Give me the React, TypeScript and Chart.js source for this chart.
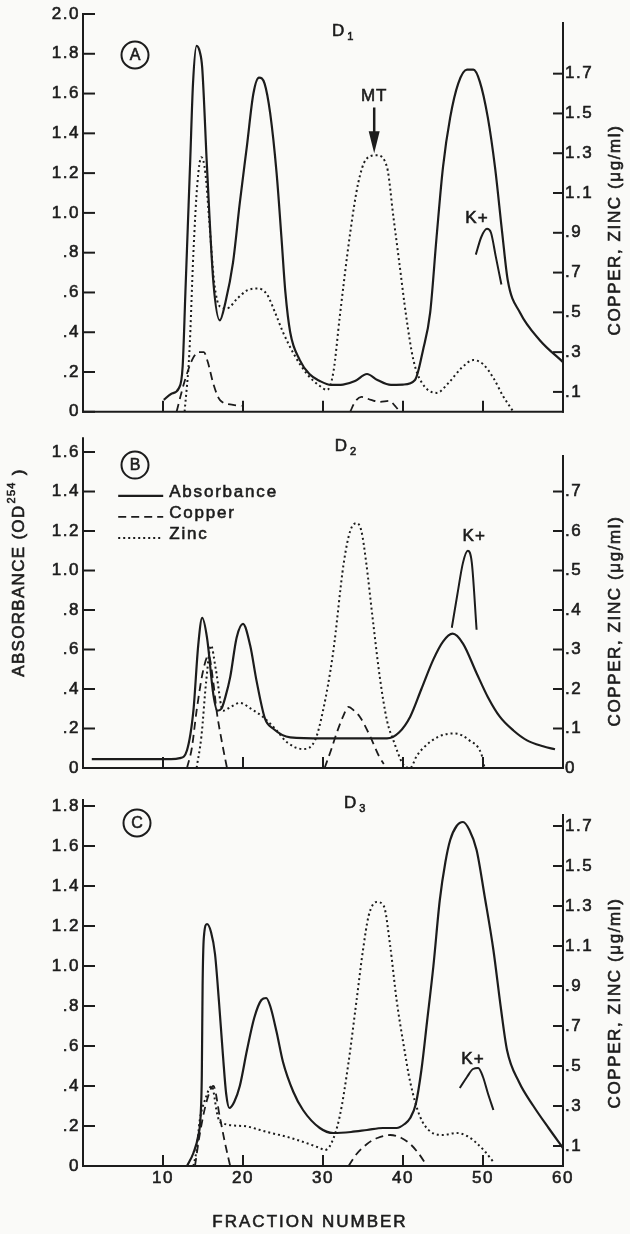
import React, { useEffect, useRef } from 'react';
import { Chart, registerables } from 'chart.js';

Chart.register(...registerables);

type Pt = [number, number];

// ---------------- Panel A (D1) ----------------
// absorbance (OD254, left axis)
const absorbanceA: Pt[] = [
  [10.1, 0.06], [11.0, 0.09], [12.0, 0.12], [12.46, 0.23], [12.8, 0.6], [13.1, 0.93], [13.4, 1.26],
  [13.75, 1.65], [14.2, 1.84], [14.6, 1.81], [14.9, 1.73], [15.5, 1.23], [16.3, 0.65], [17.1, 0.46],
  [17.8, 0.55], [18.75, 0.75], [19.6, 1.05], [20.5, 1.34], [21.3, 1.6], [22.0, 1.68], [22.7, 1.65],
  [23.4, 1.5], [24.2, 1.2], [24.8, 0.88], [25.3, 0.6], [25.9, 0.4], [27.1, 0.26], [28.3, 0.19],
  [29.6, 0.155], [31.0, 0.135], [32.5, 0.137], [34.0, 0.155], [35.5, 0.19], [36.8, 0.16], [38.5, 0.135],
  [40.0, 0.137], [41.5, 0.16], [42.5, 0.31], [43.4, 0.5], [44.2, 0.88], [45.0, 1.23], [45.9, 1.48],
  [46.9, 1.65], [48.0, 1.72], [48.8, 1.72], [49.6, 1.66], [50.6, 1.48], [51.5, 1.23], [52.4, 0.9],
  [53.1, 0.66], [54.6, 0.5], [57.1, 0.36], [60.0, 0.25],
];
// copper (µg/ml, right axis)
const copperA1: Pt[] = [
  [11.7, 0], [12.2, 0.08], [12.75, 0.16], [13.75, 0.27], [14.5, 0.3], [15.1, 0.3], [15.6, 0.25],
  [16.3, 0.14], [17.1, 0.06], [18.75, 0.035], [19.8, 0.03],
];
const copperA2: Pt[] = [
  [33.4, 0], [34.0, 0.05], [34.8, 0.075], [36.0, 0.06], [37.1, 0.05], [38.3, 0.055], [39.0, 0.03], [39.6, 0],
];
// zinc (µg/ml, right axis)
const zincA: Pt[] = [
  [12.7, 0], [13.3, 0.3], [13.8, 0.8], [14.3, 1.15], [14.8, 1.28], [15.3, 1.2], [15.8, 0.95],
  [16.4, 0.65], [17.1, 0.53], [18.0, 0.52], [19.3, 0.57], [20.5, 0.61], [21.9, 0.62], [23.0, 0.59],
  [24.0, 0.5], [25.0, 0.4], [26.5, 0.28], [28.0, 0.19], [29.6, 0.13], [30.5, 0.11], [31.3, 0.2],
  [32.1, 0.48], [33.4, 0.9], [34.4, 1.15], [35.4, 1.27], [36.7, 1.29], [38.0, 1.23], [38.8, 0.98],
  [39.6, 0.73], [40.4, 0.48], [41.3, 0.26], [42.3, 0.15], [44.2, 0.095], [45.8, 0.15], [47.3, 0.22],
  [48.8, 0.26], [50.0, 0.24], [51.3, 0.17], [52.5, 0.08], [53.8, 0],
];
const potassiumA: Pt[] = [[49.1, 0.79], [49.8, 0.88], [50.5, 0.92], [51.0, 0.9], [51.6, 0.78], [52.3, 0.64]];

// ---------------- Panel B (D2) ----------------
const absorbanceB: Pt[] = [
  [1.1, 0.045], [6.0, 0.045], [11.0, 0.045], [12.1, 0.05], [13.0, 0.09], [13.8, 0.29], [14.4, 0.62],
  [14.9, 0.76], [15.5, 0.66], [16.3, 0.37], [16.8, 0.29], [17.3, 0.3], [17.8, 0.36], [18.4, 0.46],
  [19.2, 0.66], [20.0, 0.73], [20.9, 0.62], [21.7, 0.44], [22.75, 0.25], [23.75, 0.2], [25.9, 0.155],
  [30.0, 0.15], [35.0, 0.15], [38.0, 0.15], [39.5, 0.18], [40.9, 0.26], [42.3, 0.4], [43.8, 0.55],
  [45.0, 0.64], [46.2, 0.68], [47.5, 0.63], [49.2, 0.48], [50.6, 0.36], [52.1, 0.26], [53.8, 0.19],
  [55.5, 0.14], [57.5, 0.11], [59.0, 0.095],
];
const copperB1: Pt[] = [
  [13.0, 0], [13.6, 0.05], [14.2, 0.145], [15.0, 0.245], [15.7, 0.285], [16.3, 0.215], [16.7, 0.145],
  [17.4, 0.062], [18.0, 0],
];
const copperB2: Pt[] = [
  [30.2, 0], [31.0, 0.045], [31.7, 0.088], [32.5, 0.13], [33.2, 0.155], [33.9, 0.145], [34.6, 0.13],
  [35.9, 0.08], [37.0, 0.03], [37.6, 0.01],
];
const zincB: Pt[] = [
  [14.2, 0], [14.8, 0.08], [15.4, 0.22], [16.0, 0.31], [16.6, 0.25], [17.5, 0.145], [18.5, 0.155],
  [19.6, 0.165], [21.0, 0.15], [22.75, 0.125], [24.2, 0.095], [25.5, 0.065], [27.5, 0.048], [29.0, 0.07],
  [30.0, 0.145], [31.25, 0.29], [32.6, 0.52], [33.4, 0.6], [34.2, 0.62], [34.8, 0.6], [35.4, 0.52],
  [36.2, 0.38], [37.1, 0.23], [38.0, 0.12], [38.8, 0.07], [40.0, 0.01], [40.9, 0], [41.7, 0.03],
  [42.5, 0.05], [44.5, 0.08], [46.5, 0.0875], [48.3, 0.07], [49.8, 0.035], [50.2, 0],
];
const potassiumB: Pt[] = [[46.1, 0.71], [46.8, 0.88], [47.5, 1.04], [48.1, 1.1], [48.6, 1.04], [49.2, 0.7]];

// ---------------- Panel C (D3) ----------------
const absorbanceC: Pt[] = [
  [13.0, 0], [13.8, 0.065], [14.4, 0.15], [14.7, 0.25], [14.85, 0.45], [14.95, 0.9], [15.1, 1.14],
  [15.5, 1.21], [16.0, 1.17], [16.5, 1.06], [17.0, 0.82], [17.5, 0.55], [17.9, 0.36], [18.3, 0.29],
  [18.9, 0.32], [19.6, 0.4], [20.5, 0.58], [21.4, 0.74], [22.3, 0.83], [22.9, 0.84], [23.4, 0.8],
  [24.2, 0.67], [25.0, 0.52], [26.3, 0.37], [27.5, 0.28], [29.6, 0.19], [31.3, 0.165], [33.5, 0.17],
  [35.5, 0.18], [37.5, 0.19], [39.2, 0.19], [40.2, 0.21], [40.9, 0.24], [41.6, 0.31], [42.3, 0.48],
  [43.0, 0.72], [43.8, 1.0], [44.6, 1.33], [45.3, 1.52], [45.9, 1.63], [46.7, 1.7], [47.5, 1.72],
  [48.3, 1.68], [49.2, 1.58], [50.2, 1.35], [51.3, 1.08], [52.2, 0.8], [53.0, 0.58], [54.5, 0.42],
  [56.3, 0.3], [58.2, 0.19], [60.0, 0.09],
];
const copperC1: Pt[] = [[14.0, 0], [14.6, 0.16], [15.5, 0.33], [16.3, 0.4], [17.1, 0.245], [17.75, 0.115], [18.4, 0]];
const copperC2: Pt[] = [
  [33.2, 0], [34.2, 0.06], [35.5, 0.11], [36.8, 0.14], [38.4, 0.155], [39.8, 0.14], [40.9, 0.11],
  [42.0, 0.06], [43.0, 0],
];
const zincC: Pt[] = [
  [13.8, 0], [14.2, 0.08], [14.6, 0.23], [15.25, 0.33], [16.1, 0.4], [16.75, 0.265], [17.1, 0.22],
  [20.0, 0.2], [23.0, 0.17], [26.0, 0.14], [29.6, 0.09], [30.2, 0.08], [31.0, 0.11], [32.1, 0.25],
  [33.2, 0.52], [34.2, 0.83], [35.0, 1.08], [35.7, 1.25], [36.7, 1.32], [37.6, 1.3], [38.4, 1.1],
  [39.2, 0.83], [40.1, 0.6], [40.9, 0.42], [42.1, 0.25], [43.5, 0.17], [45.0, 0.155], [46.7, 0.165],
  [48.0, 0.15], [49.2, 0.115], [50.3, 0.07], [51.3, 0.02],
];
const potassiumC: Pt[] = [[47.1, 0.39], [48.0, 0.445], [48.75, 0.485], [49.4, 0.49], [50.0, 0.445], [50.6, 0.365], [51.3, 0.28]];

// ---------------- Ticks ----------------
const xTickValues = [10, 20, 30, 40, 50, 60];
const xTickLabels = ['10', '20', '30', '40', '50', '60'];
const xInnerTicks = [10, 20, 30, 40, 50];

const leftTicksA = [0, 0.2, 0.4, 0.6, 0.8, 1.0, 1.2, 1.4, 1.6, 1.8, 2.0];
const leftLabelsA = ['0', '.2', '.4', '.6', '.8', '1.0', '1.2', '1.4', '1.6', '1.8', '2.0'];
const leftTicksB = [0, 0.2, 0.4, 0.6, 0.8, 1.0, 1.2, 1.4, 1.6];
const leftLabelsB = ['0', '.2', '.4', '.6', '.8', '1.0', '1.2', '1.4', '1.6'];
const leftTicksC = [0, 0.2, 0.4, 0.6, 0.8, 1.0, 1.2, 1.4, 1.6, 1.8];
const leftLabelsC = ['0', '.2', '.4', '.6', '.8', '1.0', '1.2', '1.4', '1.6', '1.8'];
const rightTicksAC = [0.1, 0.3, 0.5, 0.7, 0.9, 1.1, 1.3, 1.5, 1.7];
const rightLabelsAC = ['.1', '.3', '.5', '.7', '.9', '1.1', '1.3', '1.5', '1.7'];
const rightTicksB = [0, 0.1, 0.2, 0.3, 0.4, 0.5, 0.6, 0.7];
const rightLabelsB = ['0', '.1', '.2', '.3', '.4', '.5', '.6', '.7'];

const seriesNames = ['Absorbance', 'Copper', 'Zinc', 'K+'];

// ---------------- Styling ----------------
const INK = '#1c1c1c';
const BG = '#fafaf8';
const FAMILY = "'Liberation Sans', Arial, sans-serif";
const W = 630;
const LEFT_W = 83;
const RIGHT_W = 67;
const STROKE = 0.6;

interface PanelCfg {
  top: number;
  height: number;
  padTop: number;
  xAxisH: number;
  yMax: number;
  y2Max: number;
  leftAxisTop: number;
  rightAxisTop: number;
  leftTicks: number[];
  leftLabels: string[];
  rightTicks: number[];
  rightLabels: string[];
  showXLabels: boolean;
  abs: Pt[][];
  copper: Pt[][];
  zinc: Pt[][];
  kplus: Pt[];
  letter: string;
  letterAt: Pt;
  dSub: string;
  dAt: Pt;
  kAt: Pt;
  mt?: { at: Pt; shaftTop: number; tip: number };
  legendAt?: Pt;
  rightTitleY: number;
  leftTitleY?: number;
  xTitleY?: number;
}

function toXY(segs: Pt[][]) {
  const out: { x: number; y: number | null }[] = [];
  segs.forEach((seg, i) => {
    if (i > 0) {
      const prev = segs[i - 1][segs[i - 1].length - 1][0];
      out.push({ x: (prev + seg[0][0]) / 2, y: null });
    }
    seg.forEach(([x, y]) => out.push({ x, y }));
  });
  return out;
}

const panels: PanelCfg[] = [
  {
    top: 0, height: 425, padTop: 14, xAxisH: 13, yMax: 2.0, y2Max: 2.0, leftAxisTop: 2.0, rightAxisTop: 1.955,
    leftTicks: leftTicksA, leftLabels: leftLabelsA, rightTicks: rightTicksAC, rightLabels: rightLabelsAC,
    showXLabels: false, abs: [absorbanceA], copper: [copperA1, copperA2], zinc: [zincA], kplus: potassiumA,
    letter: 'A', letterAt: [6.5, 1.794], dSub: '1', dAt: [31.9, 1.915], kAt: [49.25, 0.975],
    mt: { at: [36.4, 1.588], shaftTop: 1.53, tip: 1.3 }, rightTitleY: 230,
  },
  {
    top: 425, height: 357, padTop: 10, xAxisH: 14, yMax: 1.67, y2Max: 0.835, leftAxisTop: 1.67, rightAxisTop: 0.79,
    leftTicks: leftTicksB, leftLabels: leftLabelsB, rightTicks: rightTicksB, rightLabels: rightLabelsB,
    showXLabels: false, abs: [absorbanceB], copper: [copperB1, copperB2], zinc: [zincB], kplus: potassiumB,
    letter: 'B', letterAt: [6.5, 1.534], dSub: '2', dAt: [32.25, 1.629], kAt: [48.9, 1.173],
    legendAt: [4.4, 1.398], rightTitleY: 196, leftTitleY: 148,
  },
  {
    top: 782, height: 452, padTop: 18, xAxisH: 68, yMax: 1.83, y2Max: 1.83, leftAxisTop: 1.83, rightAxisTop: 1.755,
    leftTicks: leftTicksC, leftLabels: leftLabelsC, rightTicks: rightTicksAC, rightLabels: rightLabelsAC,
    showXLabels: true, abs: [absorbanceC], copper: [copperC1, copperC2], zinc: [zincC], kplus: potassiumC,
    letter: 'C', letterAt: [6.75, 1.715], dSub: '3', dAt: [33.4, 1.815], kAt: [48.75, 0.535],
    rightTitleY: 221, xTitleY: 440,
  },
];

function decorPlugin(cfg: PanelCfg) {
  return {
    id: 'decor' + cfg.letter,
    beforeDraw(chart: any) {
      chart.ctx.letterSpacing = '1.5px';
    },
    afterDraw(chart: any) {
      const ctx: CanvasRenderingContext2D = chart.ctx;
      const xs = chart.scales.x;
      const ys = chart.scales.y;
      const y2 = chart.scales.y2;
      const px = (v: number) => xs.getPixelForValue(v);
      const py = (v: number) => ys.getPixelForValue(v);
      const line = (a: number, b: number, c: number, d: number) => {
        ctx.beginPath();
        ctx.moveTo(a, b);
        ctx.lineTo(c, d);
        ctx.stroke();
      };
      const text = (s: string, x: number, y: number) => {
        const lw = ctx.lineWidth;
        ctx.lineWidth = STROKE;
        ctx.setLineDash([]);
        ctx.fillText(s, x, y);
        ctx.strokeText(s, x, y);
        ctx.lineWidth = lw;
      };
      ctx.save();
      ctx.strokeStyle = INK;
      ctx.fillStyle = INK;
      ctx.setLineDash([]);
      ctx.lineWidth = 2;
      ctx.lineCap = 'square';
      const xl = px(0);
      const xr = px(60);
      const yb = py(0);
      // axes
      line(xl, py(cfg.leftAxisTop), xl, yb);
      line(xr, y2.getPixelForValue(cfg.rightAxisTop), xr, yb);
      line(xl, yb, xr, yb);
      ctx.lineCap = 'butt';
      // inward ticks
      cfg.leftTicks.forEach((v) => line(xl, py(v), xl + 12, py(v)));
      cfg.rightTicks.forEach((v) => line(xr - 10, y2.getPixelForValue(v), xr, y2.getPixelForValue(v)));
      xInnerTicks.forEach((v) => line(px(v), yb, px(v), yb - 11));

      // circled panel letter
      const [lx, ly] = cfg.letterAt;
      ctx.lineWidth = 2;
      ctx.beginPath();
      ctx.arc(px(lx), py(ly), 13.5, 0, Math.PI * 2);
      ctx.stroke();
      ctx.font = `16px ${FAMILY}`;
      ctx.letterSpacing = '0px';
      ctx.textAlign = 'center';
      ctx.textBaseline = 'middle';
      text(cfg.letter, px(lx), py(ly) + 1);

      // D label with subscript
      ctx.font = `17px ${FAMILY}`;
      text('D', px(cfg.dAt[0]), py(cfg.dAt[1]));
      ctx.font = `11px ${FAMILY}`;
      text(cfg.dSub, px(cfg.dAt[0]) + 12, py(cfg.dAt[1]) + 6);

      // K+ label
      ctx.font = `17px ${FAMILY}`;
      ctx.letterSpacing = '1px';
      text('K+', px(cfg.kAt[0]), py(cfg.kAt[1]));

      // MT arrow
      if (cfg.mt) {
        const ax = px(cfg.mt.at[0]);
        text('MT', ax, py(cfg.mt.at[1]));
        const tip = py(cfg.mt.tip);
        ctx.lineWidth = 2.5;
        line(ax, py(cfg.mt.shaftTop), ax, tip - 18);
        ctx.beginPath();
        ctx.moveTo(ax - 5.5, tip - 22);
        ctx.lineTo(ax + 5.5, tip - 22);
        ctx.lineTo(ax, tip);
        ctx.closePath();
        ctx.fill();
      }

      // legend
      if (cfg.legendAt) {
        const lx0 = px(cfg.legendAt[0]);
        let ly0 = py(cfg.legendAt[1]);
        ctx.textAlign = 'left';
        ctx.font = `17px ${FAMILY}`;
        ctx.letterSpacing = '1.8px';
        for (let i = 0; i < 3; i++) {
          const ds = chart.data.datasets[i];
          ctx.lineWidth = ds.borderWidth;
          ctx.setLineDash(ds.borderDash || []);
          line(lx0, ly0 + 4, lx0 + 45, ly0 + 4);
          ctx.setLineDash([]);
          text(ds.label, lx0 + 51, ly0);
          ly0 += 21;
        }
      }

      // right axis title
      ctx.textAlign = 'center';
      ctx.font = `17px ${FAMILY}`;
      ctx.letterSpacing = '1.6px';
      ctx.save();
      ctx.translate(615, cfg.rightTitleY);
      ctx.rotate(-Math.PI / 2);
      text('COPPER, ZINC (μg/ml)', 0, 0);
      ctx.restore();

      // left axis title (spans the figure)
      if (cfg.leftTitleY !== undefined) {
        ctx.save();
        ctx.translate(19, cfg.leftTitleY);
        ctx.rotate(-Math.PI / 2);
        ctx.textAlign = 'left';
        ctx.letterSpacing = '1.3px';
        const big = `17px ${FAMILY}`;
        const small = `11px ${FAMILY}`;
        ctx.font = big;
        const p1 = 'ABSORBANCE (OD';
        const w1 = ctx.measureText(p1).width;
        ctx.font = small;
        const w2 = ctx.measureText('254').width;
        ctx.font = big;
        const w3 = ctx.measureText(' )').width;
        let x = -(w1 + w2 + w3) / 2;
        text(p1, x, 0);
        x += w1 + 1;
        ctx.font = small;
        text('254', x, -7);
        x += w2;
        ctx.font = big;
        text(' )', x, 0);
        ctx.restore();
      }

      // x axis title
      if (cfg.xTitleY !== undefined) {
        ctx.font = `17px ${FAMILY}`;
        ctx.letterSpacing = '2px';
        ctx.textAlign = 'center';
        text('FRACTION NUMBER', 310, cfg.xTitleY);
      }
      ctx.restore();
    },
  };
}

function Panel({ cfg }: { cfg: PanelCfg }) {
  const ref = useRef<HTMLCanvasElement>(null);
  useEffect(() => {
    if (!ref.current) return;
    const tickFont = { family: FAMILY, size: 17 };
    const tickCommon = { autoSkip: false, color: INK, font: tickFont, textStrokeColor: INK, textStrokeWidth: STROKE };
    const base = { pointRadius: 0, fill: false, cubicInterpolationMode: 'monotone' as const, borderColor: INK, spanGaps: false };
    const chart = new Chart(ref.current, {
      type: 'line',
      data: {
        datasets: [
          { ...base, label: seriesNames[0], data: toXY(cfg.abs), yAxisID: 'y', borderWidth: 2.2, borderDash: [] },
          { ...base, label: seriesNames[1], data: toXY(cfg.copper), yAxisID: 'y2', borderWidth: 1.8, borderDash: [8, 5] },
          { ...base, label: seriesNames[2], data: toXY(cfg.zinc), yAxisID: 'y2', borderWidth: 2, borderDash: [2, 3] },
          { ...base, label: seriesNames[3], data: toXY([cfg.kplus]), yAxisID: 'y', borderWidth: 2, borderDash: [] },
        ] as any,
      },
      options: {
        animation: false,
        responsive: false,
        events: [],
        layout: { padding: { top: cfg.padTop, left: 0, right: 0, bottom: 0 } },
        plugins: { legend: { display: false }, tooltip: { enabled: false }, title: { display: false } },
        scales: {
          x: {
            type: 'linear',
            position: 'bottom',
            min: 0,
            max: 60,
            afterBuildTicks: (s: any) => {
              s.ticks = xTickValues.map((v) => ({ value: v }));
            },
            afterFit: (s: any) => {
              s.height = cfg.xAxisH;
            },
            ticks: {
              ...tickCommon,
              display: cfg.showXLabels,
              maxRotation: 0,
              padding: 2,
              callback: (_v: any, i: number) => xTickLabels[i],
            },
            grid: { display: false, drawTicks: false },
            border: { display: false },
          },
          y: {
            type: 'linear',
            position: 'left',
            min: 0,
            max: cfg.yMax,
            afterBuildTicks: (s: any) => {
              s.ticks = cfg.leftTicks.map((v) => ({ value: v }));
            },
            afterFit: (s: any) => {
              s.width = LEFT_W;
            },
            ticks: {
              ...tickCommon,
              padding: 3,
              callback: (_v: any, i: number) => cfg.leftLabels[i],
            },
            grid: { display: false, drawTicks: false },
            border: { display: false },
          },
          y2: {
            type: 'linear',
            position: 'right',
            min: 0,
            max: cfg.y2Max,
            afterBuildTicks: (s: any) => {
              s.ticks = cfg.rightTicks.map((v) => ({ value: v }));
            },
            afterFit: (s: any) => {
              s.width = RIGHT_W;
            },
            ticks: {
              ...tickCommon,
              padding: 2,
              callback: (_v: any, i: number) => cfg.rightLabels[i],
            },
            grid: { display: false, drawTicks: false },
            border: { display: false },
          },
        },
      } as any,
      plugins: [decorPlugin(cfg)],
    });
    return () => chart.destroy();
  }, [cfg]);
  return (
    <canvas
      ref={ref}
      width={W}
      height={cfg.height}
      style={{ position: 'absolute', left: 0, top: cfg.top, width: W, height: cfg.height, display: 'block' }}
    />
  );
}

export default function App() {
  return (
    <div style={{ position: 'absolute', left: 0, top: 0, width: W, height: 1234, background: BG, overflow: 'hidden' }}>
      {panels.map((p) => (
        <Panel key={p.letter} cfg={p} />
      ))}
    </div>
  );
}
